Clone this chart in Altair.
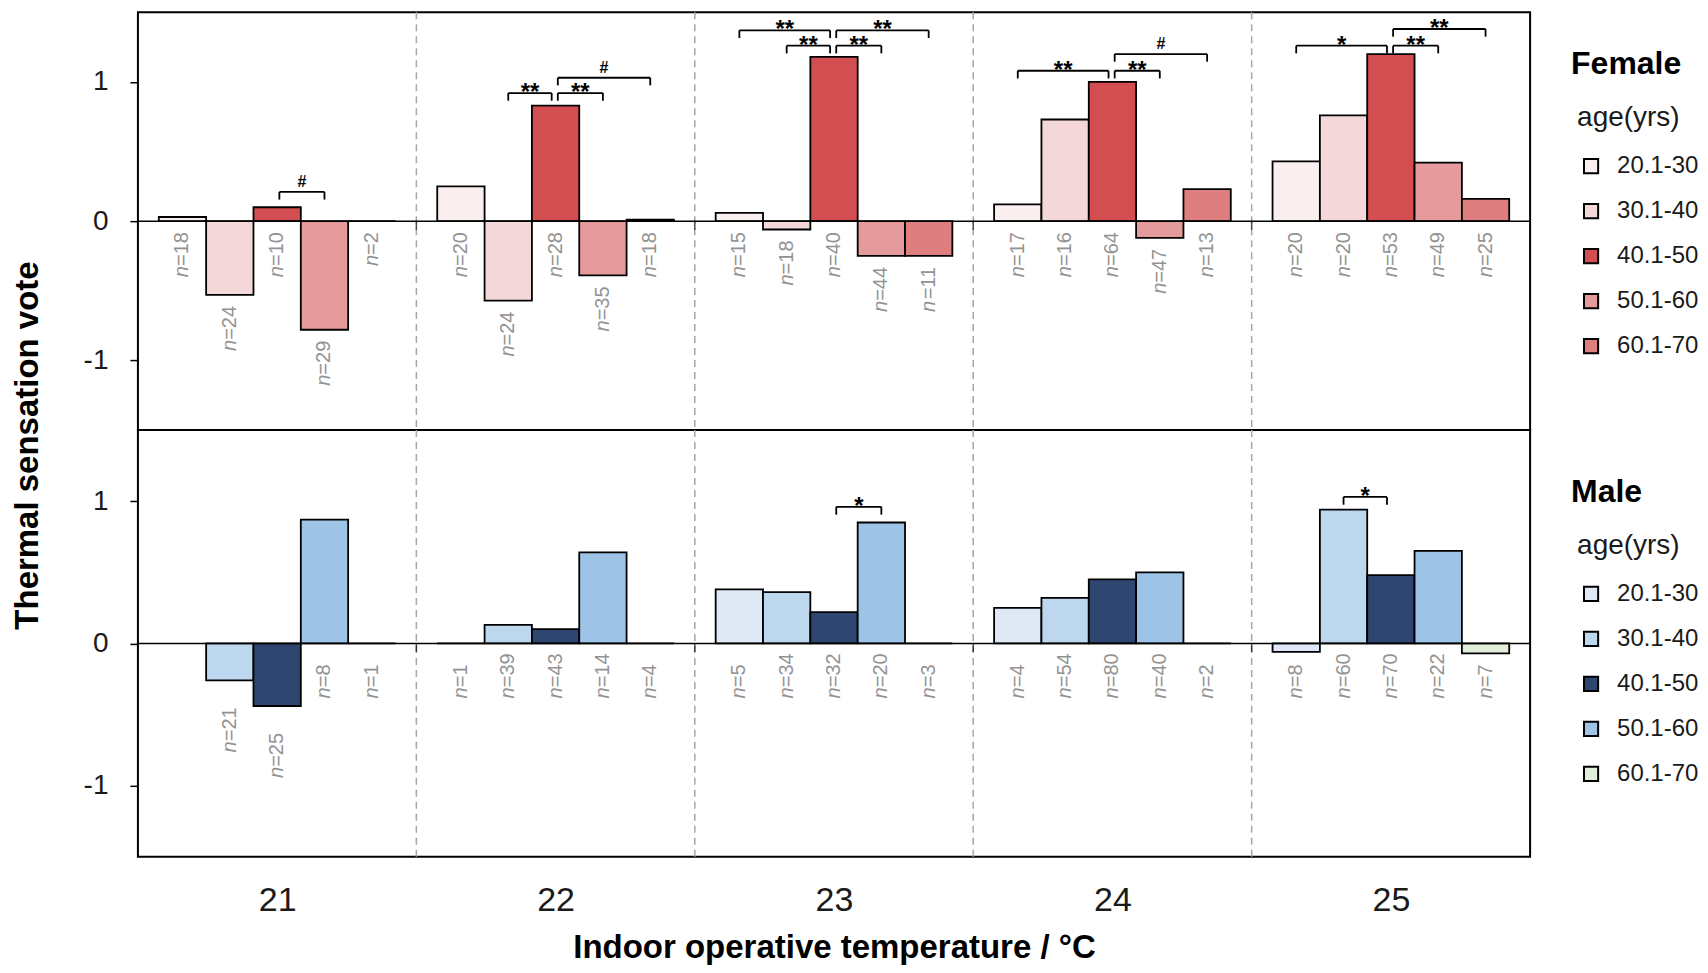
import altair as alt
import pandas as pd

FONT = "Liberation Sans"
TEMPS = [21, 22, 23, 24, 25]
AGES = ["20.1-30", "30.1-40", "40.1-50", "50.1-60", "60.1-70"]

# Female: mean thermal sensation vote per age group, one list per temperature
F_TSV_21 = [0.03, -0.53, 0.10, -0.78, 0.0]
F_TSV_22 = [0.25, -0.57, 0.83, -0.39, 0.01]
F_TSV_23 = [0.06, -0.06, 1.18, -0.25, -0.25]
F_TSV_24 = [0.12, 0.73, 1.00, -0.12, 0.23]
F_TSV_25 = [0.43, 0.76, 1.20, 0.42, 0.16]
F_N_21 = [18, 24, 10, 29, 2]
F_N_22 = [20, 24, 28, 35, 18]
F_N_23 = [15, 18, 40, 44, 11]
F_N_24 = [17, 16, 64, 47, 13]
F_N_25 = [20, 20, 53, 49, 25]

# Male
M_TSV_21 = [None, -0.26, -0.44, 0.87, 0.0]
M_TSV_22 = [0.0, 0.13, 0.10, 0.64, 0.0]
M_TSV_23 = [0.38, 0.36, 0.22, 0.85, 0.0]
M_TSV_24 = [0.25, 0.32, 0.45, 0.50, 0.0]
M_TSV_25 = [-0.06, 0.94, 0.48, 0.65, -0.07]
M_N_21 = [None, 21, 25, 8, 1]
M_N_22 = [1, 39, 43, 14, 4]
M_N_23 = [5, 34, 32, 20, 3]
M_N_24 = [4, 54, 80, 40, 2]
M_N_25 = [8, 60, 70, 22, 7]

F_COLORS = ["#FAEFEF", "#F4D7D9", "#D24E51", "#E59B9B", "#DE7E7F"]
M_COLORS = ["#DEE9F5", "#BDD7EE", "#2F4770", "#9DC3E6", "#E2EFDA"]

# significance brackets: (temperature, bar i, bar j, level, label)
F_BRACKETS = [
    (21, 2, 3, 0.21, "#"),
    (22, 1, 2, 0.92, "**"), (22, 2, 3, 0.92, "**"), (22, 2, 4, 1.03, "#"),
    (23, 0, 2, 1.37, "**"), (23, 1, 2, 1.26, "**"), (23, 2, 3, 1.26, "**"), (23, 2, 4, 1.37, "**"),
    (24, 0, 2, 1.08, "**"), (24, 2, 3, 1.08, "**"), (24, 2, 4, 1.20, "#"),
    (25, 0, 2, 1.26, "*"), (25, 2, 3, 1.26, "**"), (25, 2, 4, 1.38, "**"),
]
M_BRACKETS = [(23, 2, 3, 0.96, "*"), (25, 1, 2, 1.03, "*")]

BAR_W = 0.17
TIP = 0.055
GRAY = "#939393"
INK = "#1a1a1a"
W_N = 11.12          # width of italic "n" at 20px
W_EQ = 11.68         # width of "=" at 20px
W_D = 11.12          # width of a digit at 20px

BOUNDS = [(a + b) / 2 for a, b in zip(TEMPS[:-1], TEMPS[1:])]

xs = alt.Scale(domain=[TEMPS[0] - 0.5, TEMPS[-1] + 0.5], nice=False, zero=False)
ys = alt.Scale(domain=[-1.5, 1.5], nice=False, zero=False)


def center(t, i):
    return t + (i - 2) * BAR_W


def bar_frame(tsv, ns):
    rows = []
    for t, vals, nn in zip(TEMPS, tsv, ns):
        for i, (a, v, n) in enumerate(zip(AGES, vals, nn)):
            if v is None:
                continue
            c = center(t, i)
            rows.append(dict(temp=t, age=a, v=v, c=c, x0=c - BAR_W / 2, x1=c + BAR_W / 2,
                             lo=min(v, 0.0), zero=0.0, nl="n", eq="=" + str(n),
                             nd=len(str(n)), neg=bool(v < -0.1)))
    return pd.DataFrame(rows)


def bracket_frames(brs):
    segs, labs = [], []
    for t, i, j, lev, lab in brs:
        xl = center(t, i) + (0.008 if i == 2 else 0.0)
        xr = center(t, j) - (0.014 if j == 2 else 0.0)
        segs.append(dict(x=xl, x2=xr, y=lev, y2=lev))
        segs.append(dict(x=xl, x2=xl, y=lev, y2=lev - TIP))
        segs.append(dict(x=xr, x2=xr, y=lev, y2=lev - TIP))
        labs.append(dict(xm=(xl + xr) / 2, lev=lev, lab=lab, hash=lab == "#"))
    return pd.DataFrame(segs), pd.DataFrame(labs)


def panel(df, brs, colors, gender, gender_y, legend_y, height, top):
    if top:
        x_axis = None
        y_axis = alt.Axis(values=[-1, 0, 1], labelExpr="'' + datum.value", grid=False, domain=False,
                          tickSize=8, tickWidth=1.5, tickColor="black", labelFontSize=28,
                          labelPadding=22, labelColor=INK, labelFont=FONT,
                          title="Thermal sensation vote", titleX=-110, titleY=433,
                          titleFontSize=33, titleFontWeight="bold", titleAngle=270,
                          titleAlign="center", titleBaseline="middle", titleColor="black",
                          titleFont=FONT)
    else:
        x_axis = alt.Axis(values=TEMPS, format="d", grid=False, domain=False, ticks=False,
                          labelFontSize=34, labelPadding=27, labelColor=INK, labelFont=FONT,
                          title="Indoor operative temperature / °C", titleFontSize=33,
                          titleFontWeight="bold", titlePadding=14, titleColor="black",
                          titleFont=FONT)
        y_axis = alt.Axis(values=[-1, 0, 1], labelExpr="'' + datum.value", grid=False, domain=False,
                          tickSize=8, tickWidth=1.5, tickColor="black", labelFontSize=28,
                          labelPadding=22, labelColor=INK, labelFont=FONT, title="")

    X = lambda f: alt.X(f, type="quantitative", scale=xs, axis=x_axis)
    Y = lambda f: alt.Y(f, type="quantitative", scale=ys, axis=y_axis)

    dashed = alt.Chart(pd.DataFrame({"b": BOUNDS})).mark_rule(
        color="#A6A6A6", strokeWidth=1.5, strokeDash=[7, 5]).encode(x=X("b"))

    bars = alt.Chart(df).mark_bar(stroke="black", strokeWidth=1.8).encode(
        x=X("x0"),
        x2="x1:Q",
        y=Y("v"),
        y2=alt.datum(0),
        color=alt.Color("age:N", scale=alt.Scale(domain=AGES, range=colors),
                        legend=alt.Legend(title="age(yrs)", orient="none", legendX=1440,
                                          legendY=legend_y, titleFontSize=28,
                                          titleFontWeight="normal", titleColor=INK,
                                          titleFont=FONT, labelFont=FONT, labelColor=INK,
                                          labelFontSize=24, symbolType="square",
                                          symbolSize=200, symbolStrokeColor="black",
                                          symbolStrokeWidth=2, rowPadding=21,
                                          titlePadding=22, labelOffset=14, symbolOffset=2,
                                          padding=0)),
    )

    zero = alt.Chart(pd.DataFrame({"z": [0.0]})).mark_rule(
        color="black", strokeWidth=1.5).encode(y=Y("z"))

    zticks = alt.Chart(pd.DataFrame({"b": BOUNDS, "z": [0.0] * len(BOUNDS)})).mark_tick(
        orient="vertical", size=9, thickness=1.5, color="black", yOffset=4).encode(
        x=X("b"), y=Y("z"))

    txt = dict(angle=270, baseline="middle", fontSize=20, color=GRAY, font=FONT)
    labels = []
    if top:
        labels.append(alt.Chart(df).mark_text(align="right", dx=-11, **txt).encode(
            x=X("c"), y=Y("lo"), text="eq:N"))
        for nd in (1, 2):
            labels.append(alt.Chart(df).transform_filter(alt.datum.nd == nd).mark_text(
                align="right", dx=-11 - (W_EQ + W_D * nd), fontStyle="italic", **txt).encode(
                x=X("c"), y=Y("lo"), text="nl:N"))
    else:
        pos = alt.Chart(df).transform_filter("!datum.neg")
        labels.append(pos.mark_text(align="left", dx=-55, fontStyle="italic", **txt).encode(
            x=X("c"), y=Y("zero"), text="nl:N"))
        labels.append(pos.mark_text(align="left", dx=-55 + W_N, **txt).encode(
            x=X("c"), y=Y("zero"), text="eq:N"))
        neg = alt.Chart(df).transform_filter("datum.neg")
        labels.append(neg.mark_text(align="right", dx=-27, **txt).encode(
            x=X("c"), y=Y("lo"), text="eq:N"))
        labels.append(neg.mark_text(align="right", dx=-27 - (W_EQ + 2 * W_D),
                                    fontStyle="italic", **txt).encode(
            x=X("c"), y=Y("lo"), text="nl:N"))

    segs, labs = bracket_frames(brs)
    brk = alt.Chart(segs).mark_rule(color="black", strokeWidth=1.8).encode(
        x=X("x"), x2="x2:Q", y=Y("y"), y2="y2:Q")
    star = alt.Chart(labs).transform_filter("!datum.hash").mark_text(
        baseline="alphabetic", dy=7, fontSize=24, fontWeight="bold", color="black",
        font=FONT).encode(x=X("xm"), y=Y("lev"), text="lab:N")
    hsh = alt.Chart(labs).transform_filter("datum.hash").mark_text(
        baseline="alphabetic", dy=-5, fontSize=16, fontWeight="bold", color="black",
        font=FONT).encode(x=X("xm"), y=Y("lev"), text="lab:N")

    gtitle = alt.Chart(pd.DataFrame({"g": [gender]})).mark_text(
        align="left", baseline="middle", fontSize=32, fontWeight="bold", color="black",
        font=FONT).encode(x=alt.value(1434), y=alt.value(gender_y), text="g:N")

    return alt.layer(dashed, bars, zero, zticks, *labels, brk, star, hsh, gtitle).properties(
        width=1393, height=height)


female = bar_frame([F_TSV_21, F_TSV_22, F_TSV_23, F_TSV_24, F_TSV_25],
                   [F_N_21, F_N_22, F_N_23, F_N_24, F_N_25])
male = bar_frame([M_TSV_21, M_TSV_22, M_TSV_23, M_TSV_24, M_TSV_25],
                 [M_N_21, M_N_22, M_N_23, M_N_24, M_N_25])

top = panel(female, F_BRACKETS, F_COLORS, "Female", 52, 92, 418, True)
bottom = panel(male, M_BRACKETS, M_COLORS, "Male", 62, 102, 427, False)

chart = alt.vconcat(top, bottom, spacing=0, bounds="flush").resolve_scale(
    color="independent", x="independent", y="independent").properties(
    padding={"left": 3, "top": 2, "right": 0, "bottom": 0}).configure(
    font=FONT).configure_view(stroke="black", strokeWidth=2)

chart.save("out.html", embed_options={"renderer": "svg", "actions": False})
